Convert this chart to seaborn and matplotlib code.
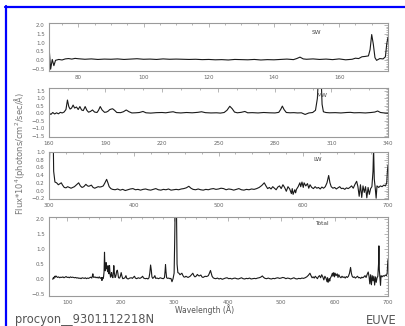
import numpy as np
import pandas as pd
import matplotlib
matplotlib.use("Agg")
import matplotlib.pyplot as plt
import seaborn as sns
from matplotlib.ticker import MultipleLocator, FixedLocator
from matplotlib.lines import Line2D

# ---------------- data ----------------
sw_wave = [71.0, 71.5, 72.0, 72.5, 73.0, 74.0, 75.0, 76.0, 77.0, 78.0, 79.0, 80.0,
           82, 84, 86, 88, 90, 92, 94, 96, 98, 100, 102, 104, 106, 108, 110, 112,
           114, 116, 118, 120, 122, 124, 126, 128, 130, 132, 134, 136, 138, 140,
           142, 144, 146, 147, 148, 149, 150, 152, 154, 156, 158, 160, 162, 164,
           165, 166, 167, 168, 169, 169.5, 170.0, 170.5, 171.0, 171.5, 172.5,
           173.5, 174.2, 174.6, 175.0]
sw_flux = [0.80, -0.50, 0.05, -0.30, 0.00, 0.05, 0.02, 0.08, 0.10, 0.07, 0.11, 0.09,
           0.06, 0.08, 0.05, 0.07, 0.06, 0.08, 0.05, 0.07, 0.09, 0.06, 0.07, 0.05,
           0.08, 0.06, 0.07, 0.06, 0.05, 0.06, 0.04, 0.05, 0.03, 0.04, 0.02, 0.05,
           0.04, 0.03, 0.05, 0.02, 0.04, 0.03, 0.05, 0.07, 0.04, 0.10, 0.18, 0.08,
           0.06, 0.08, 0.05, 0.07, 0.04, 0.08, 0.03, 0.06, 0.12, 0.10, 0.20, 0.22,
           0.25, 0.60, 1.45, 0.90, 0.15, 0.00, 0.10, 0.08, 0.20, 0.90, 1.30]

mw_wave = [160, 161, 162, 163, 164, 165, 166, 167, 168, 169, 169.8, 170.5, 171.2,
           172, 172.8, 173.6, 174.6, 175.5, 176.4, 177.3, 178.2, 179.2, 180.1, 181,
           182, 183.1, 184.2, 185.5, 186.3, 187.2, 188.2, 189.5, 190.5, 191.5, 192.2,
           193, 193.8, 194.8, 196, 198, 199.5, 201, 202.5, 204, 206, 208, 209.9,
           211.5, 214, 217, 220, 222, 224, 225.9, 227.5, 230, 233, 236, 239, 241,
           243, 246, 249, 251, 253, 254.5, 256, 257.3, 258.5, 260, 262, 264, 265.5,
           268, 271, 274, 277, 280, 282, 283, 283.9, 284.8, 286, 288, 290, 292, 294,
           296, 298, 300, 301.5, 302.5, 303.3, 304.3, 305, 305.7, 307, 309, 312,
           315, 318, 320, 322, 325, 328, 331, 333, 334.5, 336, 338, 340]
mw_flux = [0.02, -0.08, 0.05, -0.05, 0.03, -0.04, 0.06, 0.02, 0.08, 0.25, 0.89, 0.45,
           0.28, 0.35, 0.55, 0.35, 0.42, 0.25, 0.45, 0.22, 0.18, 0.45, 0.20, 0.07,
           0.12, 0.22, 0.08, 0.05, 0.20, 0.45, 0.22, 0.06, 0.08, 0.15, 0.24, 0.28,
           0.30, 0.20, 0.05, 0.04, 0.10, 0.22, 0.10, 0.02, 0.03, 0.05, 0.12, 0.03,
           0.01, 0.04, 0.05, 0.03, 0.07, 0.10, 0.04, 0.02, 0.05, 0.03, 0.06, 0.10,
           0.04, 0.02, 0.03, 0.01, 0.05, 0.20, 0.47, 0.30, 0.08, 0.03, 0.06, 0.12,
           0.03, 0.04, 0.02, 0.05, 0.03, 0.02, 0.06, 0.25, 0.48, 0.25, 0.05, 0.03,
           0.04, 0.02, 0.03, -0.08, 0.02, 0.05, 0.20, 1.00, 3.00, 3.00, 0.60, 0.10,
           0.05, 0.03, 0.04, 0.02, 0.05, 0.06, 0.03, 0.04, 0.02, 0.05, 0.08, 0.15,
           0.05, 0.02, 0.00]

lw_wave = [300, 301, 302.5, 304, 305.5, 307, 309, 311, 313, 314.5, 316, 318, 320,
           322, 324, 326, 328, 330, 333, 335, 337, 339, 341, 343.5, 345.5, 347, 350,
           352, 354, 356, 358, 360, 362, 364, 366, 368, 369.5, 371, 373, 375, 378,
           381, 384, 387, 390, 393, 396, 399, 402, 405, 408, 411, 414, 417, 420, 423,
           426, 429, 432, 435, 438, 441, 444, 447, 450, 453, 456, 459, 462, 465,
           467.5, 470, 473, 476, 479, 482, 485, 488, 491, 494, 497, 500, 503, 506,
           509, 512, 515, 518, 521, 524, 527, 530, 533, 536, 539, 542, 545, 548, 551,
           554, 556, 558, 560, 562, 564, 566, 568, 570, 572, 574, 576, 578, 580, 582,
           584, 586, 587, 588, 590, 591, 592, 594, 596, 597, 598.5, 600, 601, 603,
           605, 606.5, 608, 610, 612, 614, 616, 618, 620, 622, 624, 626, 628, 630,
           631.5, 633, 635, 637, 639, 641, 643, 645, 647, 649, 651, 653, 655, 657,
           659, 661, 663, 664.5, 666, 667.5, 669, 670.5, 672, 673.5, 675, 676.5, 678,
           679.5, 681, 682.3, 683, 683.8, 685, 686, 687, 689, 691, 693, 695, 697,
           698.5, 699.3, 700]
lw_flux = [0.20, 1.20, 3.00, 3.00, 0.50, 0.22, 0.20, 0.15, 0.18, 0.20, 0.14, 0.08,
           0.07, 0.10, 0.08, 0.06, 0.08, 0.10, 0.16, 0.20, 0.12, 0.08, 0.10, 0.16,
           0.12, 0.11, 0.14, 0.08, 0.06, 0.08, 0.10, 0.09, 0.10, 0.12, 0.20, 0.29,
           0.20, 0.10, 0.05, 0.03, 0.02, 0.04, 0.01, 0.03, 0.00, 0.02, 0.04, 0.05,
           0.02, 0.03, 0.01, 0.03, 0.04, 0.02, 0.01, 0.03, 0.05, 0.02, 0.01, 0.03,
           0.02, 0.04, 0.01, 0.02, 0.03, 0.02, 0.04, 0.05, 0.07, 0.11, 0.06, 0.03,
           0.02, 0.04, 0.02, 0.01, 0.03, 0.02, 0.04, 0.05, 0.03, 0.04, 0.06, 0.05,
           0.02, 0.04, 0.03, 0.01, 0.03, 0.05, 0.02, 0.01, 0.03, 0.02, 0.04, 0.03,
           0.05, 0.08, 0.13, 0.20, 0.12, 0.05, 0.08, 0.04, 0.10, 0.06, 0.02, 0.09,
           0.12, 0.05, 0.15, 0.08, -0.02, 0.10, 0.04, -0.08, 0.05, -0.10, 0.02,
           -0.06, 0.03, 0.10, 0.20, 0.10, 0.22, 0.08, 0.20, 0.12, 0.18, 0.06, 0.15,
           0.08, 0.05, 0.10, 0.06, 0.08, 0.04, 0.09, 0.06, 0.10, 0.20, 0.39, 0.20,
           0.10, 0.06, 0.08, 0.04, 0.07, 0.10, 0.05, 0.06, 0.03, 0.07, 0.05, 0.08,
           0.12, 0.06, 0.16, 0.24, 0.10, -0.15, 0.15, -0.18, 0.12, -0.05, 0.10,
           -0.19, 0.08, -0.10, 0.05, 0.10, 0.50, 1.10, 0.30, 0.05, -0.20, 0.12,
           0.08, 0.12, 0.10, 0.14, 0.12, 0.20, 0.50, 0.65]

sw_xticks = [80, 100, 120, 140, 160]
mw_xticks = [160, 190, 220, 250, 280, 310, 340]
lw_xticks = [300, 400, 500, 600, 700]
tot_xticks = [100, 200, 300, 400, 500, 600, 700]

panel_labels = ["SW", "MW", "LW", "Total"]
y_title = "Flux*10$^{4}$(photons/cm$^{2}$/sec/Å)"
x_title = "Wavelength (Å)"
footer_left = "procyon__9301112218N"
footer_right = "EUVE"

# ---------------- tables ----------------
sw = pd.DataFrame({"wave": sw_wave, "flux": sw_flux})
mw = pd.DataFrame({"wave": mw_wave, "flux": mw_flux})
lw = pd.DataFrame({"wave": lw_wave, "flux": lw_flux})
total = pd.concat([sw[(sw.wave >= 73) & (sw.wave < 165)],
                   mw[(mw.wave >= 165) & (mw.wave < 300)], lw],
                  ignore_index=True)

# ---------------- figure ----------------
sns.set_theme(style="white")
plt.rcParams["font.family"] = ["DejaVu Sans"]

W, H = 406, 326
fig = plt.figure(figsize=(W / 100, H / 100), dpi=100)
fig.patch.set_facecolor("white")

def rect(x0, y0, x1, y1):
    return [x0 / W, 1 - y1 / H, (x1 - x0) / W, (y1 - y0) / H]

specs = [
    dict(df=sw, r=rect(49, 23, 388, 71), xlim=(71, 175), ylim=(-0.6, 2.1),
         xt=sw_xticks, xmin=5, ymaj=0.5, ymin=0.1, lab=(0.776, 0.80)),
    dict(df=mw, r=rect(49, 88, 388, 137), xlim=(160, 340), ylim=(-1.6, 1.7),
         xt=mw_xticks, xmin=10, ymaj=0.5, ymin=0.1, lab=(0.79, 0.85)),
    dict(df=lw, r=rect(49, 152, 388, 199), xlim=(300, 700), ylim=(-0.22, 1.0),
         xt=lw_xticks, xmin=20, ymaj=0.2, ymin=0.05, lab=(0.78, 0.83)),
    dict(df=total, r=rect(49, 217, 388, 296), xlim=(66, 700), ylim=(-0.55, 2.05),
         xt=tot_xticks, xmin=20, ymaj=0.5, ymin=0.1, lab=(0.785, 0.92)),
]

for s, name in zip(specs, panel_labels):
    ax = fig.add_axes(s["r"])
    ax.set_facecolor("white")
    sns.lineplot(data=s["df"], x="wave", y="flux", ax=ax, color="#1a1a1a",
                 linewidth=0.8, estimator=None, sort=False)
    ax.set_xlim(*s["xlim"])
    ax.set_ylim(*s["ylim"])
    ax.xaxis.set_major_locator(FixedLocator(s["xt"]))
    ax.xaxis.set_minor_locator(MultipleLocator(s["xmin"]))
    ax.yaxis.set_major_locator(MultipleLocator(s["ymaj"]))
    ax.yaxis.set_minor_locator(MultipleLocator(s["ymin"]))
    ax.set_xlabel("")
    ax.set_ylabel("")
    for sp in ax.spines.values():
        sp.set_color("#9a9a9a")
        sp.set_linewidth(0.8)
        sp.set_visible(True)
    ax.tick_params(which="both", direction="in", top=True, right=True,
                   colors="#9a9a9a", labelcolor="#666666", labelsize=4, pad=3,
                   width=0.5)
    ax.tick_params(which="major", length=3)
    ax.tick_params(which="minor", length=1.5)
    ax.text(s["lab"][0], s["lab"][1], name, transform=ax.transAxes,
            fontsize=4.2, color="#444444", ha="left", va="center")

fig.text(20 / W, 1 - 153 / H, y_title, rotation=90, ha="center", va="center",
         fontsize=6, color="#777777")
fig.text(205 / W, 1 - 310 / H, x_title, ha="center", va="center",
         fontsize=5.5, color="#555555")
fig.text(15 / W, 1 - 320 / H, footer_left, ha="left", va="center",
         fontsize=8.3, color="#555555")
fig.text(397 / W, 1 - 320 / H, footer_right, ha="right", va="center",
         fontsize=8.3, color="#555555")

# blue frame (top and left)
fig.add_artist(Line2D([5 / W, 1.0], [1 - 6.5 / H] * 2, transform=fig.transFigure,
                      color="#0000ff", linewidth=1.6))
fig.add_artist(Line2D([6 / W] * 2, [0.0, 1 - 5.5 / H], transform=fig.transFigure,
                      color="#0000ff", linewidth=1.6))

fig.savefig("out.png", dpi=100)
